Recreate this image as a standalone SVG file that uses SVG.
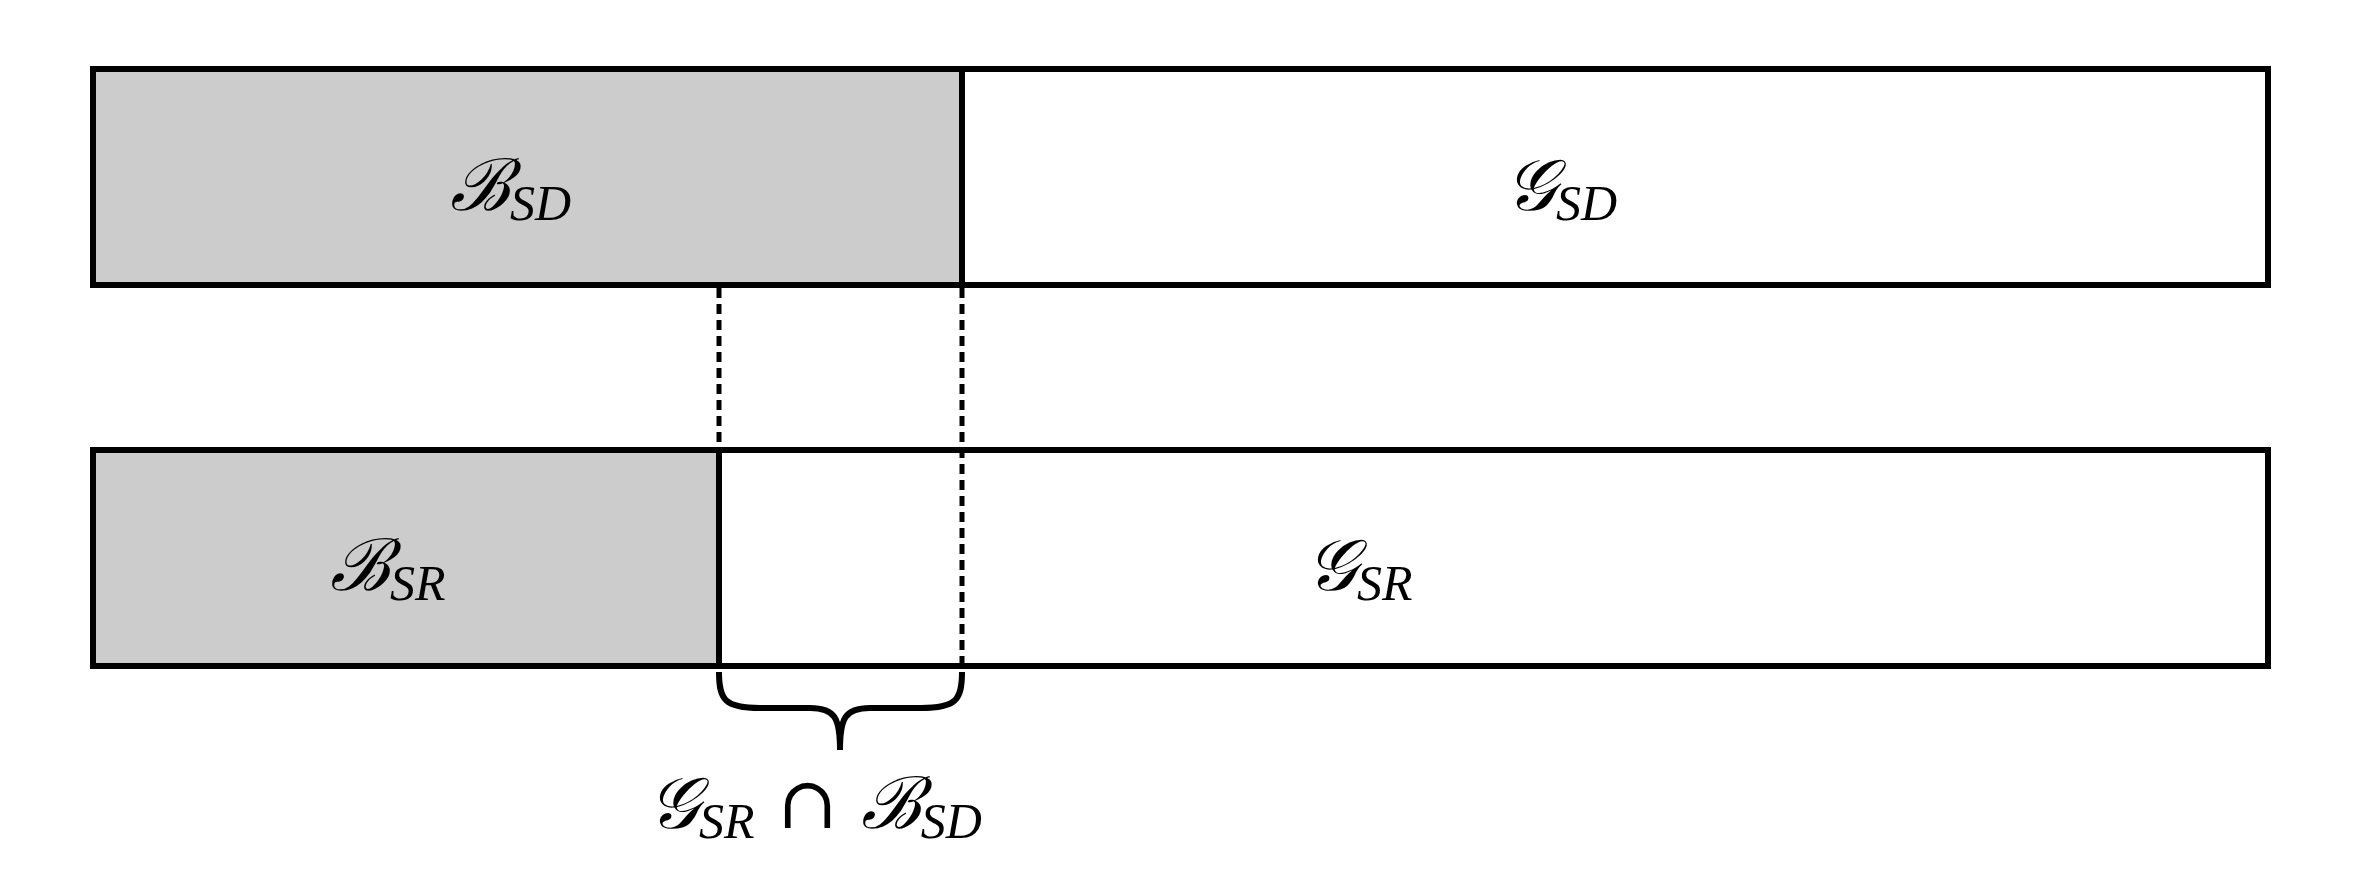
<svg xmlns="http://www.w3.org/2000/svg" width="2354" height="887" viewBox="0 0 2354 887">
<style>
.box{stroke:#000;stroke-width:6;}
.dash{stroke:#000;stroke-width:5;stroke-dasharray:10,6;fill:none;}
.t{font-family:"DejaVu Serif","Liberation Serif",serif;font-style:italic;font-size:72px;fill:#000;}
.s{font-size:50px;font-family:"Liberation Serif",serif;font-style:italic;}
</style>
<rect width="2354" height="887" fill="#fff"/>
<g id="top">
<rect class="box" x="93" y="69" width="869" height="216" fill="#ccc"/>
<rect class="box" x="962" y="69" width="1306" height="216" fill="#fff"/>
<text class="t" x="450" y="210">ℬ<tspan class="s" dy="10">SD</tspan></text>
<text class="t" x="1505" y="210">𝒢<tspan class="s" dy="10">SD</tspan></text>
</g>
<g id="bottom">
<rect class="box" x="93" y="450" width="626" height="216" fill="#ccc"/>
<rect class="box" x="719" y="450" width="1549" height="216" fill="#fff"/>
<text class="t" x="330" y="590">ℬ<tspan class="s" dy="10">SR</tspan></text>
<text class="t" x="1306" y="590">𝒢<tspan class="s" dy="10">SR</tspan></text>
</g>
<g id="connectors">
<line class="dash" x1="719" y1="288" x2="719" y2="450"/>
<line class="dash" x1="962" y1="288" x2="962" y2="666"/>
<path d="M719 672 C719 700 725 708 760 708 L810 708 C835 708 840 718 840 750 C840 718 845 708 870 708 L921 708 C956 708 962 700 962 672" fill="none" stroke="#000" stroke-width="6"/>
</g>
<g id="label">
<text class="t" x="648" y="828">𝒢<tspan class="s" dy="10">SR</tspan><tspan dy="-10"> ∩ ℬ</tspan><tspan class="s" dy="10">SD</tspan></text>
</g>
</svg>
